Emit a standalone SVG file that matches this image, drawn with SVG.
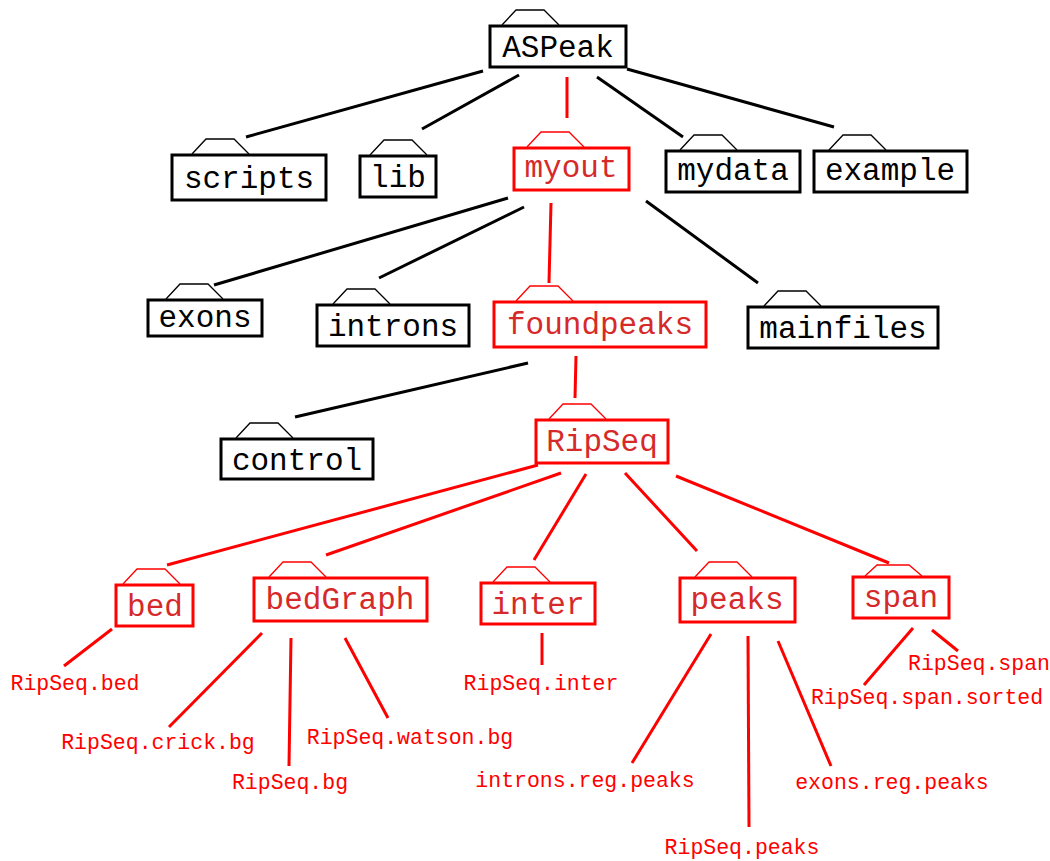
<svg xmlns="http://www.w3.org/2000/svg" xmlns:xlink="http://www.w3.org/1999/xlink" width="1050" height="861" viewBox="0 0 1050 861">
  <style>
    .box { fill: #ffffff; stroke: #000000; stroke-width: 3; }
    .box.red { stroke: #ff0000; }
    .tab { fill: none; stroke: #000000; stroke-width: 1.3; }
    .tab.red { stroke: #ff0000; }
    .name { font-family: "Liberation Mono", "Courier New", monospace; font-size: 31px; text-anchor: middle; fill: #000000; }
    .name.red { fill: #d62a2a; }
    .file { font-family: "Liberation Mono", "Courier New", monospace; font-size: 21.5px; text-anchor: middle; fill: #ff0000; }
    .edge { stroke: #000000; stroke-width: 3; fill: none; }
    .edge.red { stroke: #ff0000; }
  </style>
  <defs>
    <!-- folder tab drawn above each directory box -->
    <path id="tab" d="M0,0 L14,-15 L42,-15 L57,0"/>
    <path id="tab-low" d="M0,0 L12,-11 L44,-11 L57,0"/>
  </defs>
  <rect width="1050" height="861" fill="#ffffff"/>

  <g id="connectors">
    <line class="edge" x1="483" y1="71" x2="246" y2="137"/>
    <line class="edge" x1="519" y1="75" x2="422" y2="129"/>
    <line class="edge red" x1="567" y1="77" x2="567" y2="118"/>
    <line class="edge" x1="597" y1="77" x2="683" y2="137"/>
    <line class="edge" x1="627" y1="69" x2="834" y2="127"/>
    <line class="edge" x1="508" y1="198" x2="214" y2="285"/>
    <line class="edge" x1="524" y1="207" x2="379" y2="278"/>
    <line class="edge red" x1="551" y1="203" x2="549" y2="283"/>
    <line class="edge" x1="646" y1="201" x2="758" y2="283"/>
    <line class="edge" x1="528" y1="363" x2="295" y2="417"/>
    <line class="edge red" x1="576" y1="356" x2="575" y2="398"/>
    <line class="edge red" x1="538" y1="465" x2="167" y2="565"/>
    <line class="edge red" x1="561" y1="473" x2="326" y2="555"/>
    <line class="edge red" x1="586" y1="474" x2="534" y2="560"/>
    <line class="edge red" x1="625" y1="473" x2="697" y2="551"/>
    <line class="edge red" x1="676" y1="476" x2="889" y2="563"/>
    <line class="edge red" x1="112" y1="629" x2="64" y2="666"/>
    <line class="edge red" x1="262" y1="633" x2="169" y2="727"/>
    <line class="edge red" x1="291" y1="638" x2="289" y2="766"/>
    <line class="edge red" x1="345" y1="638" x2="388" y2="718"/>
    <line class="edge red" x1="542" y1="633" x2="542" y2="665"/>
    <line class="edge red" x1="711" y1="634" x2="632" y2="763"/>
    <line class="edge red" x1="748" y1="636" x2="749" y2="827"/>
    <line class="edge red" x1="778" y1="641" x2="831" y2="766"/>
    <line class="edge red" x1="913" y1="628" x2="864" y2="685"/>
    <line class="edge red" x1="932" y1="630" x2="958" y2="651"/>
  </g>

  <g id="node-aspeak">
    <use href="#tab" xlink:href="#tab" class="tab" x="502" y="25"/>
    <rect class="box" x="490" y="26" width="136" height="41"/>
    <text class="name" x="558" y="57">ASPeak</text>
  </g>
  <g id="node-scripts">
    <use href="#tab" xlink:href="#tab" class="tab" x="192" y="154"/>
    <rect class="box" x="172" y="155" width="154" height="45"/>
    <text class="name" x="249" y="188">scripts</text>
  </g>
  <g id="node-lib">
    <use href="#tab" xlink:href="#tab" class="tab" x="370" y="155"/>
    <rect class="box" x="360" y="156" width="76" height="41"/>
    <text class="name" x="398" y="187">lib</text>
  </g>
  <g id="node-myout">
    <use href="#tab" xlink:href="#tab" class="tab red" x="527" y="147"/>
    <rect class="box red" x="514" y="148" width="115" height="42"/>
    <text class="name red" x="571" y="177">myout</text>
  </g>
  <g id="node-mydata">
    <use href="#tab" xlink:href="#tab" class="tab" x="680" y="150"/>
    <rect class="box" x="666" y="151" width="134" height="41"/>
    <text class="name" x="733" y="180">mydata</text>
  </g>
  <g id="node-example">
    <use href="#tab" xlink:href="#tab" class="tab" x="829" y="150"/>
    <rect class="box" x="814" y="151" width="153" height="41"/>
    <text class="name" x="890" y="180">example</text>
  </g>
  <g id="node-exons">
    <use href="#tab" xlink:href="#tab" class="tab" x="166" y="299"/>
    <rect class="box" x="148" y="300" width="114" height="36"/>
    <text class="name" x="205" y="327">exons</text>
  </g>
  <g id="node-introns">
    <use href="#tab" xlink:href="#tab" class="tab" x="333" y="304"/>
    <rect class="box" x="317" y="305" width="152" height="41"/>
    <text class="name" x="393" y="336">introns</text>
  </g>
  <g id="node-foundpeaks">
    <use href="#tab" xlink:href="#tab" class="tab red" x="516" y="301"/>
    <rect class="box red" x="494" y="302" width="212" height="45"/>
    <text class="name red" x="600" y="334">foundpeaks</text>
  </g>
  <g id="node-mainfiles">
    <use href="#tab" xlink:href="#tab" class="tab" x="764" y="306"/>
    <rect class="box" x="748" y="307" width="190" height="41"/>
    <text class="name" x="843" y="338">mainfiles</text>
  </g>
  <g id="node-control">
    <use href="#tab" xlink:href="#tab" class="tab" x="236" y="438"/>
    <rect class="box" x="221" y="439" width="152" height="40"/>
    <text class="name" x="297" y="470">control</text>
  </g>
  <g id="node-ripseq">
    <use href="#tab" xlink:href="#tab" class="tab red" x="549" y="419"/>
    <rect class="box red" x="536" y="420" width="132" height="43"/>
    <text class="name red" x="602" y="451">RipSeq</text>
  </g>
  <g id="node-bed">
    <use href="#tab" xlink:href="#tab" class="tab red" x="123" y="584"/>
    <rect class="box red" x="116" y="585" width="77" height="41"/>
    <text class="name red" x="155" y="616">bed</text>
  </g>
  <g id="node-bedgraph">
    <use href="#tab" xlink:href="#tab" class="tab red" x="269" y="577"/>
    <rect class="box red" x="254" y="578" width="173" height="43"/>
    <text class="name red" x="340" y="609">bedGraph</text>
  </g>
  <g id="node-inter">
    <use href="#tab" xlink:href="#tab" class="tab red" x="493" y="582"/>
    <rect class="box red" x="481" y="583" width="114" height="41"/>
    <text class="name red" x="538" y="614">inter</text>
  </g>
  <g id="node-peaks">
    <use href="#tab" xlink:href="#tab" class="tab red" x="695" y="577"/>
    <rect class="box red" x="680" y="578" width="115" height="44"/>
    <text class="name red" x="737" y="609">peaks</text>
  </g>
  <g id="node-span">
    <use href="#tab-low" xlink:href="#tab-low" class="tab red" x="865" y="576"/>
    <rect class="box red" x="853" y="577" width="96" height="41"/>
    <text class="name red" x="901" y="607">span</text>
  </g>

  <g id="files">
    <text class="file" x="75" y="690">RipSeq.bed</text>
    <text class="file" x="158" y="749">RipSeq.crick.bg</text>
    <text class="file" x="290" y="789">RipSeq.bg</text>
    <text class="file" x="410" y="744">RipSeq.watson.bg</text>
    <text class="file" x="541" y="690">RipSeq.inter</text>
    <text class="file" x="585" y="787">introns.reg.peaks</text>
    <text class="file" x="742" y="854">RipSeq.peaks</text>
    <text class="file" x="892" y="789">exons.reg.peaks</text>
    <text class="file" x="979" y="670">RipSeq.span</text>
    <text class="file" x="927" y="704">RipSeq.span.sorted</text>
  </g>
</svg>
